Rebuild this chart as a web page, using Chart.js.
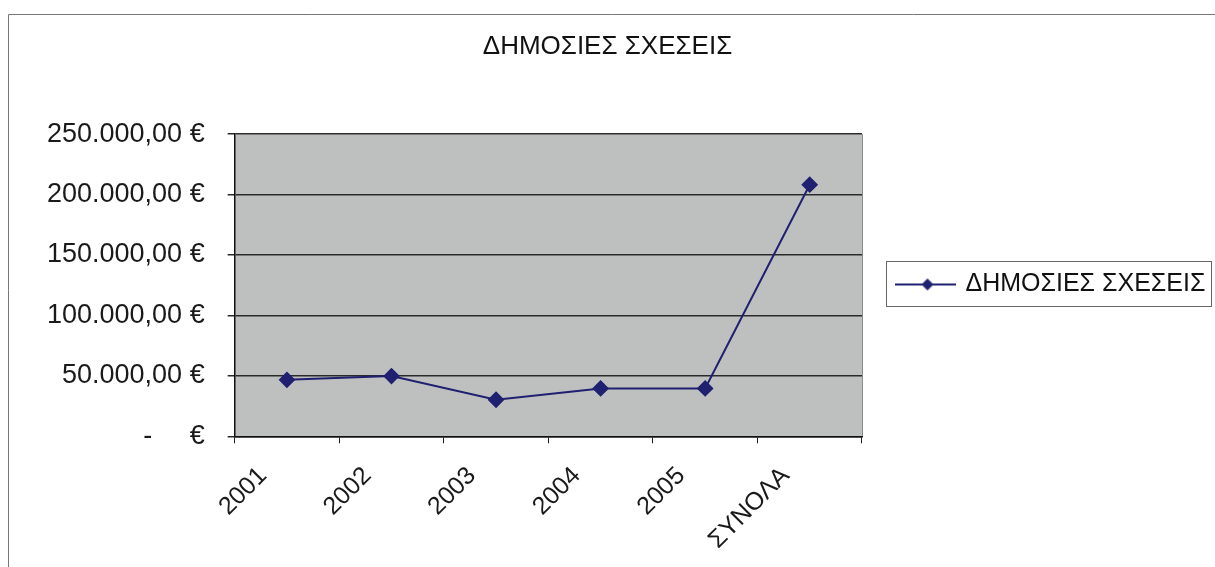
<!DOCTYPE html>
<html>
<head>
<meta charset="utf-8">
<script src="https://cdn.jsdelivr.net/npm/chart.js@4"></script>
<style>
  html, body { margin: 0; padding: 0; background: #fff; }
  #wrap { position: relative; width: 1215px; height: 567px; }
</style>
</head>
<body>
<div id="wrap"><canvas id="publicRelationsChart"></canvas></div>
<script>
const chartTitle = "ΔΗΜΟΣΙΕΣ ΣΧΕΣΕΙΣ";
const categories = ["2001", "2002", "2003", "2004", "2005", "ΣΥΝΟΛΑ"];
const amounts = [46700, 49800, 30200, 39600, 39600, 208200];
const yTicks = [0, 50000, 100000, 150000, 200000, 250000];

const NAVY = "#1f2070";
const FONT = "'Liberation Sans', Arial, sans-serif";

// euro format like "50.000,00 €", zero shown as dash
function euro(v) {
  if (v === 0) return "-     €";
  const s = Math.round(v).toString().replace(/\B(?=(\d{3})+(?!\d))/g, ".");
  return s + ",00 €";
}

// legend symbol: line with a diamond in the middle
const legendSymbol = document.createElement("canvas");
legendSymbol.width = 61;
legendSymbol.height = 14;
(function () {
  const c = legendSymbol.getContext("2d");
  c.strokeStyle = NAVY;
  c.lineWidth = 2;
  c.beginPath();
  c.moveTo(0, 7);
  c.lineTo(61, 7);
  c.stroke();
  c.fillStyle = NAVY;
  c.beginPath();
  c.moveTo(33, 1);
  c.lineTo(39, 7);
  c.lineTo(33, 13);
  c.lineTo(27, 7);
  c.closePath();
  c.fill();
})();

const framePlugin = {
  id: "frame",
  beforeDraw(chart) {
    const { ctx, chartArea: a } = chart;
    ctx.save();
    ctx.fillStyle = "#ffffff";
    ctx.fillRect(0, 0, chart.width, chart.height);
    ctx.fillStyle = "#bec0c0";
    ctx.fillRect(a.left, a.top, a.right - a.left, a.bottom - a.top);
    ctx.strokeStyle = "#8a8a8a";
    ctx.lineWidth = 1;
    ctx.beginPath();
    ctx.moveTo(a.right + 0.5, a.top);
    ctx.lineTo(a.right + 0.5, a.bottom);
    ctx.stroke();
    ctx.restore();
  },
  afterLayout(chart) {
    // title centred on the whole sheet, not just the padded area
    const t = chart.titleBlock;
    t.left = 0;
    t.right = chart.width;
    t.width = chart.width;
    // put the legend where the original had it
    const lg = chart.legend;
    const w = lg.width;
    lg.left = 887;
    lg.right = lg.left + w;
    lg.top = 262;
    lg.bottom = 307;
  },
  afterDraw(chart) {
    const { ctx } = chart;
    ctx.save();
    ctx.strokeStyle = "#666";
    ctx.lineWidth = 1;
    ctx.strokeRect(886.5, 261.5, 325, 45);
    // outer frame of the sheet
    ctx.strokeStyle = "#777";
    ctx.beginPath();
    ctx.moveTo(8.5, 567);
    ctx.lineTo(8.5, 14.5);
    ctx.lineTo(1215, 14.5);
    ctx.stroke();
    ctx.restore();
  },
};

const ctx = document.getElementById("publicRelationsChart").getContext("2d");
new Chart(ctx, {
  type: "line",
  data: {
    labels: categories,
    datasets: [
      {
        label: chartTitle,
        data: amounts,
        borderColor: NAVY,
        backgroundColor: NAVY,
        borderWidth: 2,
        pointStyle: "rectRot",
        pointRadius: 7,
        pointHoverRadius: 7,
        tension: 0,
      },
    ],
  },
  options: {
    responsive: true,
    maintainAspectRatio: false,
    animation: false,
    layout: { padding: { left: 24, right: 353, top: 0, bottom: -6 } },
    plugins: {
      title: {
        display: true,
        text: chartTitle,
        color: "#111",
        font: { family: FONT, size: 26, weight: "normal" },
        padding: { top: 31, bottom: 72 },
      },
      legend: {
        display: true,
        position: "chartArea",
        align: "center",
        labels: {
          color: "#111",
          font: { family: FONT, size: 25 },
          usePointStyle: true,
          pointStyle: legendSymbol,
          pointStyleWidth: 56,
          padding: 10,
        },
      },
      tooltip: { enabled: false },
    },
    scales: {
      x: {
        offset: true,
        grid: {
          offset: true,
          drawOnChartArea: false,
          drawTicks: true,
          tickLength: 7,
          color: "#222",
        },
        border: { color: "#111", width: 1.5 },
        ticks: {
          color: "#1a1a1a",
          font: { family: FONT, size: 25 },
          minRotation: 45,
          maxRotation: 45,
          padding: 18,
          labelOffset: -24,
          autoSkip: false,
        },
      },
      y: {
        min: 0,
        max: 250000,
        afterBuildTicks(scale) {
          scale.ticks = yTicks.map((v) => ({ value: v }));
        },
        grid: { color: "#2a2a2a", lineWidth: 1.5, tickLength: 7 },
        border: { color: "#111", width: 1.5 },
        ticks: {
          color: "#1a1a1a",
          font: { family: FONT, size: 27 },
          padding: 23,
          callback: (v) => euro(v),
        },
      },
    },
  },
  plugins: [framePlugin],
});
</script>
</body>
</html>
